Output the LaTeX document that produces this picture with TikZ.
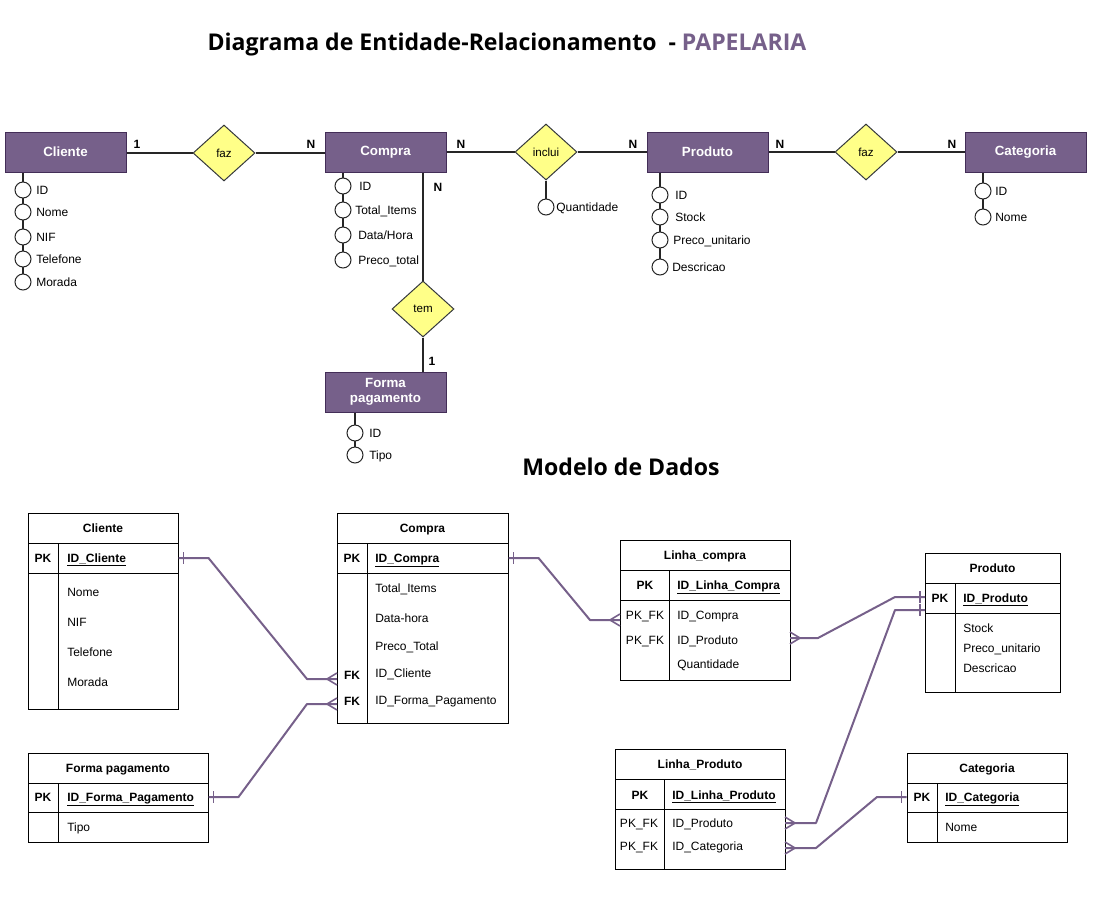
\documentclass[tikz,border=0pt]{standalone}
\usepackage{fontspec}
\setmainfont{Liberation Sans}
\newfontfamily\headfont{Open Sans}
\usetikzlibrary{shapes.geometric,fit,backgrounds}
\definecolor{entfill}{HTML}{76608A}
\definecolor{entline}{HTML}{432D57}
\definecolor{relfill}{HTML}{FFFF88}
\definecolor{relline}{HTML}{36393D}
\definecolor{linkcol}{HTML}{76608A}

\begin{document}
\begin{tikzpicture}[x=0.75pt,y=-0.75pt,
  entity/.style={draw=entline, fill=entfill, text=white, line width=0.75pt,
    font=\fontsize{10}{11.5}\selectfont\bfseries, minimum width=90.75pt,
    minimum height=30pt, inner sep=0pt, align=center},
  relation/.style={diamond, draw=relline, fill=relfill, line width=0.75pt,
    minimum width=46.5pt, minimum height=42pt, inner sep=0pt,
    font=\fontsize{8.7}{10}\selectfont},
  attr/.style={circle, draw=black!85, fill=white, minimum size=12pt,
    inner sep=0pt, line width=0.75pt},
  txtbox/.style={inner sep=0pt, text height=6.4pt, text depth=0pt},
  attrtxt/.style={txtbox, anchor=west, font=\fontsize{9}{10}\selectfont},
  card/.style={txtbox, font=\fontsize{9}{10}\selectfont\bfseries},
  erline/.style={draw=black!85, line width=0.9pt},
  tbox/.style={draw, line width=0.75pt, inner sep=0pt},
  tline/.style={draw, line width=0.75pt},
  ttl/.style={txtbox, font=\fontsize{9}{10}\selectfont\bfseries},
  ttxt/.style={txtbox, anchor=west, font=\fontsize{9}{10}\selectfont},
  tkey/.style={txtbox, font=\fontsize{9}{10}\selectfont\bfseries},
  tpk/.style={txtbox, anchor=west, font=\fontsize{9}{10}\selectfont\bfseries},
  tfk/.style={txtbox, font=\fontsize{9}{10}\selectfont},
  link/.style={draw=linkcol, line width=1.5pt, line join=round},
  crow/.pic={\draw[link, line width=1.2pt] (-10,0) -- (0,-6) (-10,0) -- (0,6);},
  onemark/.pic={\draw[link, line width=1.2pt] (5,-6) -- (5,6);}
]
\useasboundingbox (0,0) rectangle (1103,904);

% ---------- titles ----------
\node[font=\headfont\fontsize{17.3}{20}\selectfont\bfseries, inner sep=0pt] (title) at (507,45)
  {Diagrama de Entidade-Relacionamento\ \ - \textcolor{entfill}{PAPELARIA}};
\node[font=\headfont\fontsize{17.3}{20}\selectfont\bfseries, inner sep=0pt] (subtitle) at (621,467)
  {Modelo de Dados};

% ---------- entity-relationship diagram ----------
\node[entity] (eCli)  at (65.5,152)  {Cliente};
\node[entity] (eCmp)  at (385.5,152) {Compra};
\node[entity] (eProd) at (707.5,152) {Produto};
\node[entity] (eCat)  at (1025.5,152) {Categoria};
\node[entity] (eFP)   at (385.5,392) {Forma\\pagamento};

\node[relation] (rFaz1) at (224,153) {faz};
\node[relation] (rInc)  at (546,152) {inclui};
\node[relation] (rFaz2) at (866,152) {faz};
\node[relation] (rTem)  at (423,309) {tem};

\draw[erline] (eCli.east |- rFaz1) -- (rFaz1.west);
\draw[erline] (rFaz1.east) -- (eCmp.west |- rFaz1);
\draw[erline] (eCmp.east) -- (rInc.west);
\draw[erline] (rInc.east) -- (eProd.west);
\draw[erline] (eProd.east) -- (rFaz2.west);
\draw[erline] (rFaz2.east) -- (eCat.west);
\draw[erline] (eCmp.south -| rTem) -- (rTem.north);
\draw[erline] (rTem.south) -- (eFP.north -| rTem);

\node[card] (k1) at (137,144) {1};
\node[card] (k2) at (311,144) {N};
\node[card] (k3) at (461,144) {N};
\node[card] (k4) at (633,144) {N};
\node[card] (k5) at (780,144) {N};
\node[card] (k6) at (952,144) {N};
\node[card] (k7) at (438,187) {N};
\node[card] (k8) at (432,361) {1};

% attributes
\foreach \n/\y/\t in {1/190/ID, 2/212/Nome, 3/237/NIF, 4/259/Telefone, 5/282/Morada}{
  \node[attr] (aCli\n) at (23,\y) {};
  \node[attrtxt] at (36,\y) {\t};
}
\foreach \n/\y/\lx/\t in {1/186/359/ID, 2/210/355/{Total\_Items}, 3/235/358/{Data/Hora}, 4/260/358/{Preco\_total}}{
  \node[attr] (aCmp\n) at (343,\y) {};
  \node[attrtxt] at (\lx,\y) {\t};
}
\foreach \n/\y/\lx/\t in {1/195/675/ID, 2/217/675/Stock, 3/240/673/{Preco\_unitario}, 4/267/672/Descricao}{
  \node[attr] (aProd\n) at (660,\y) {};
  \node[attrtxt] at (\lx,\y) {\t};
}
\foreach \n/\y/\t in {1/191/ID, 2/217/Nome}{
  \node[attr] (aCat\n) at (983,\y) {};
  \node[attrtxt] at (995,\y) {\t};
}
\foreach \n/\y/\t in {1/433/ID, 2/455/Tipo}{
  \node[attr] (aFP\n) at (355,\y) {};
  \node[attrtxt] at (369,\y) {\t};
}
\node[attr] (aQt) at (546,207) {};
\node[attrtxt] at (556,207) {Quantidade};

\begin{scope}[on background layer]
  \draw[erline] (eCli.south -| aCli1) -- (aCli5);
  \draw[erline] (eCmp.south -| aCmp1) -- (aCmp4);
  \draw[erline] (eProd.south -| aProd1) -- (aProd4);
  \draw[erline] (eCat.south -| aCat1) -- (aCat2);
  \draw[erline] (eFP.south -| aFP1) -- (aFP2);
  \draw[erline] (rInc.south) -- (aQt);
\end{scope}

% ---------- data model ----------
% Cliente
\node[tbox, fit={(28,513)(178,709)}] (tCli) {};
\draw[tline] (28,543) -- (178,543) (28,573) -- (178,573) (58,543) -- (58,709);
\node[ttl] at (103,528) {Cliente};
\node[tkey] at (43,558) {PK};
\node[tpk] (cliPK) at (67,558) {\underline{ID\_Cliente}};
\foreach \y/\t in {592/Nome, 622/NIF, 652/Telefone, 682/Morada}
  \node[ttxt] at (67,\y) {\t};

% Compra
\node[tbox, fit={(337,513)(508,723)}] (tCmp) {};
\draw[tline] (337,543) -- (508,543) (337,573) -- (508,573) (367,543) -- (367,723);
\node[ttl] at (422.5,528) {Compra};
\node[tkey] at (352,558) {PK};
\node[tpk] (cmpPK) at (375,558) {\underline{ID\_Compra}};
\foreach \y/\t in {588/{Total\_Items}, 618/Data-hora, 646/{Preco\_Total}, 673/{ID\_Cliente}, 700/{ID\_Forma\_Pagamento}}
  \node[ttxt] at (375,\y) {\t};
\node[tkey] at (352,675) {FK};
\node[tkey] at (352,701) {FK};

% Linha_compra
\node[tbox, fit={(620,540)(790,680)}] (tLC) {};
\draw[tline] (620,570) -- (790,570) (620,600) -- (790,600) (669,570) -- (669,680);
\node[ttl] at (705,555) {Linha\_compra};
\node[tkey] at (645,585) {PK};
\node[tpk] (lcPK) at (677,585) {\underline{ID\_Linha\_Compra}};
\node[tfk] at (645,615) {PK\_FK};
\node[tfk] at (645,640) {PK\_FK};
\foreach \y/\t in {615/{ID\_Compra}, 640/{ID\_Produto}, 664/Quantidade}
  \node[ttxt] at (677,\y) {\t};

% Produto
\node[tbox, fit={(925,553)(1060,692)}] (tProd) {};
\draw[tline] (925,583) -- (1060,583) (925,613) -- (1060,613) (955,583) -- (955,692);
\node[ttl] at (992.5,568) {Produto};
\node[tkey] at (940,598) {PK};
\node[tpk] (prodPK) at (963,598) {\underline{ID\_Produto}};
\foreach \y/\t in {628/Stock, 648/{Preco\_unitario}, 668/Descricao}
  \node[ttxt] at (963,\y) {\t};

% Forma pagamento
\node[tbox, fit={(28,753)(208,842)}] (tFP) {};
\draw[tline] (28,783) -- (208,783) (28,812) -- (208,812) (58,783) -- (58,842);
\node[ttl] at (118,768) {Forma pagamento};
\node[tkey] at (43,797) {PK};
\node[tpk] (fpPK) at (67,797) {\underline{ID\_Forma\_Pagamento}};
\node[ttxt] at (67,827) {Tipo};

% Linha_Produto
\node[tbox, fit={(615,749)(785,869)}] (tLP) {};
\draw[tline] (615,779) -- (785,779) (615,809) -- (785,809) (664,779) -- (664,869);
\node[ttl] at (700,764) {Linha\_Produto};
\node[tkey] at (640,795) {PK};
\node[tpk] (lpPK) at (672,795) {\underline{ID\_Linha\_Produto}};
\node[tfk] at (639,823) {PK\_FK};
\node[tfk] at (639,846) {PK\_FK};
\node[ttxt] at (672,823) {ID\_Produto};
\node[ttxt] at (672,846) {ID\_Categoria};

% Categoria
\node[tbox, fit={(907,753)(1067,842)}] (tCat) {};
\draw[tline] (907,783) -- (1067,783) (907,812) -- (1067,812) (937,783) -- (937,842);
\node[ttl] at (987,768) {Categoria};
\node[tkey] at (922,797) {PK};
\node[tpk] (catPK) at (945,797) {\underline{ID\_Categoria}};
\node[ttxt] at (945,827) {Nome};

% connector end points on the table edges
\coordinate (pCliOut)  at (tCli.east |- cliPK);
\coordinate (pCmpIn1)  at (337,679);
\coordinate (pFPOut)   at (tFP.east |- fpPK);
\coordinate (pCmpIn2)  at (337,704);
\coordinate (pCmpOut)  at (tCmp.east |- cmpPK);
\coordinate (pLCIn)    at (620,620);
\coordinate (pLCOut)   at (790,638);
\coordinate (pProdIn1) at (925,597);
\coordinate (pLPOut1)  at (785,823);
\coordinate (pProdIn2) at (925,610);
\coordinate (pLPOut2)  at (785,848);
\coordinate (pCatIn)   at (tCat.west |- catPK);

% relationships
\draw[link] (pCliOut) -- ++(30,0) -- (307,679) -- (pCmpIn1);
\pic at (pCliOut) {onemark};
\pic at (pCmpIn1) {crow};

\draw[link] (pFPOut) -- ++(30,0) -- (307,704) -- (pCmpIn2);
\pic at (pFPOut) {onemark};
\pic at (pCmpIn2) {crow};

\draw[link] (pCmpOut) -- ++(30,0) -- (590,620) -- (pLCIn);
\pic at (pCmpOut) {onemark};
\pic at (pLCIn) {crow};

\draw[link] (pLCOut) -- ++(28,0) -- (895,597) -- (pProdIn1);
\pic[xscale=-1] at (pLCOut) {crow};
\pic[xscale=-1] at (pProdIn1) {onemark};

\draw[link] (pLPOut1) -- ++(31,0) -- (895,610) -- (pProdIn2);
\pic[xscale=-1] at (pLPOut1) {crow};
\pic[xscale=-1] at (pProdIn2) {onemark};

\draw[link] (pLPOut2) -- ++(31,0) -- (877,797) -- (pCatIn);
\pic[xscale=-1] at (pLPOut2) {crow};
\pic[xscale=-1] at (pCatIn) {onemark};

\end{tikzpicture}
\end{document}
